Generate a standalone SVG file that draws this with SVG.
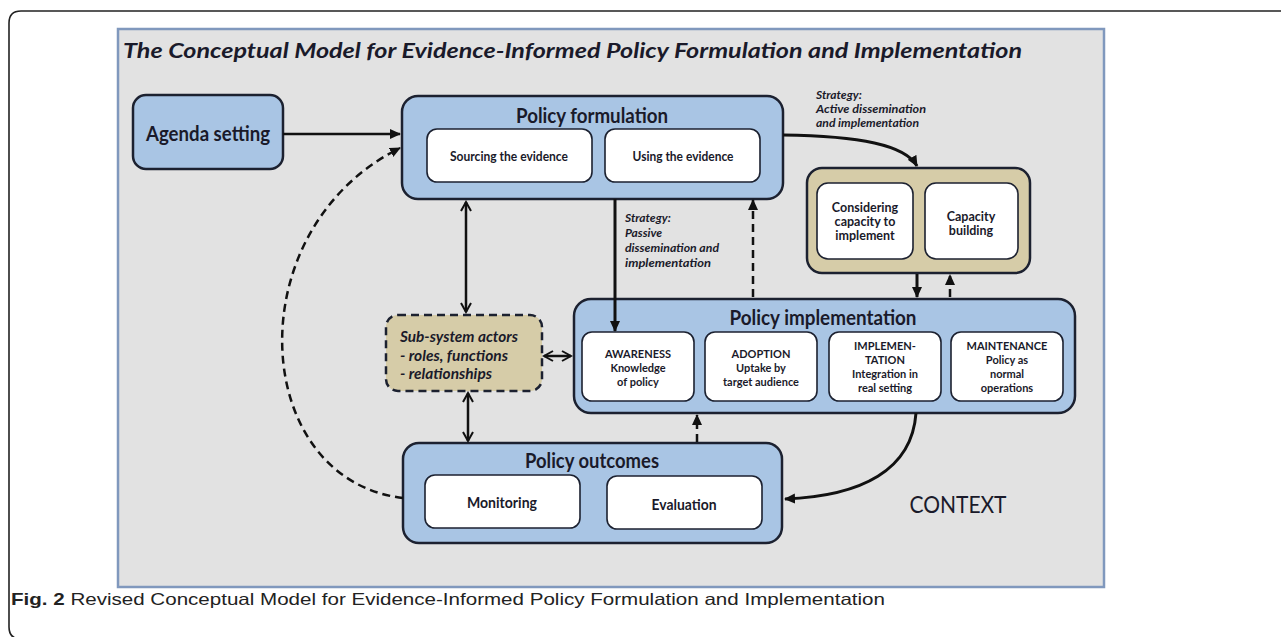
<svg xmlns="http://www.w3.org/2000/svg" width="1281" height="637" viewBox="0 0 1281 637">
<style>
.blue{fill:#a9c5e4;stroke:#1c2130;stroke-width:2.5}
.white{fill:#ffffff;stroke:#1c2130;stroke-width:1.6}
.tan{fill:#d6cca8;stroke:#1c2130;stroke-width:2.5}
.t{font-family:Lato,"Open Sans","Liberation Sans",sans-serif;fill:#1a1a2a}
.b{font-weight:bold}
.i{font-style:italic}
.c{text-anchor:middle}
.ln{fill:none;stroke:#111;stroke-width:2.5}
.th{stroke-width:3}
.dash{stroke-dasharray:8,5}
</style>
<defs>
<marker id="ah" markerWidth="12" markerHeight="12" refX="10" refY="6" orient="auto" markerUnits="userSpaceOnUse">
<path d="M0,1 L11,6 L0,11 Z" fill="#111"/>
</marker>
<marker id="open" markerWidth="12" markerHeight="12" refX="10" refY="6" orient="auto-start-reverse" markerUnits="userSpaceOnUse">
<path d="M1,1 L10,6 L1,11" fill="none" stroke="#111" stroke-width="2"/>
</marker>
</defs>
<rect x="0" y="0" width="1281" height="637" fill="#ffffff"/>
<path d="M1281 11 H21 Q9 11 9 23 V627 Q9 639 21 639 H1281" fill="none" stroke="#222" stroke-width="1.6"/>
<rect id="panel" x="118" y="29" width="986" height="558" fill="#e2e2e2" stroke="#8098bd" stroke-width="2.5"/>
<text class="t b i" x="123" y="58" font-size="20" textLength="899" lengthAdjust="spacingAndGlyphs">The Conceptual Model for Evidence-Informed Policy Formulation and Implementation</text>

<g id="agenda">
<rect class="blue" x="133" y="95" width="150" height="74" rx="13"/>
<text class="t b c" x="208" y="141" font-size="20" textLength="124" lengthAdjust="spacingAndGlyphs">Agenda setting</text>
</g>

<g id="formulation">
<rect class="blue" x="402" y="96" width="381" height="103" rx="16"/>
<text class="t b c" x="592" y="123" font-size="20" textLength="152" lengthAdjust="spacingAndGlyphs">Policy formulation</text>
<rect class="white" x="427" y="129" width="165" height="53" rx="10"/>
<text class="t b c" x="509" y="161" font-size="12.5" textLength="118" lengthAdjust="spacingAndGlyphs">Sourcing the evidence</text>
<rect class="white" x="605" y="129" width="155" height="53" rx="10"/>
<text class="t b c" x="683" y="161" font-size="12.5" textLength="101" lengthAdjust="spacingAndGlyphs">Using the evidence</text>
</g>

<g id="strategy-active">
<text class="t b i" x="816" y="99" font-size="12">Strategy:</text>
<text class="t b i" x="816" y="113" font-size="12" textLength="110" lengthAdjust="spacingAndGlyphs">Active dissemination</text>
<text class="t b i" x="816" y="127" font-size="12" textLength="103" lengthAdjust="spacingAndGlyphs">and implementation</text>
</g>

<g id="capacity">
<rect class="tan" x="807" y="168" width="223" height="105" rx="15"/>
<rect class="white" x="817" y="183" width="96" height="76" rx="11" stroke-width="2"/>
<text class="t b c" x="865" y="212" font-size="12.5">Considering</text>
<text class="t b c" x="865" y="226" font-size="12.5">capacity to</text>
<text class="t b c" x="865" y="240" font-size="12.5">implement</text>
<rect class="white" x="925" y="183" width="93" height="76" rx="11" stroke-width="2"/>
<text class="t b c" x="971" y="221" font-size="12.5">Capacity</text>
<text class="t b c" x="971" y="235" font-size="12.5">building</text>
</g>

<g id="strategy-passive">
<text class="t b i" x="625" y="222" font-size="12">Strategy:</text>
<text class="t b i" x="625" y="237" font-size="12">Passive</text>
<text class="t b i" x="625" y="252" font-size="12" textLength="94" lengthAdjust="spacingAndGlyphs">dissemination and</text>
<text class="t b i" x="625" y="267" font-size="12" textLength="86" lengthAdjust="spacingAndGlyphs">implementation</text>
</g>

<g id="subsystem">
<rect class="tan" x="386" y="315" width="156" height="76" rx="12" stroke-dasharray="8,5"/>
<text class="t b i" x="400" y="342" font-size="15" textLength="118" lengthAdjust="spacingAndGlyphs">Sub-system actors</text>
<text class="t b i" x="400" y="361" font-size="15" textLength="108" lengthAdjust="spacingAndGlyphs">- roles, functions</text>
<text class="t b i" x="400" y="379" font-size="15" textLength="92" lengthAdjust="spacingAndGlyphs">- relationships</text>
</g>

<g id="implementation">
<rect class="blue" x="574" y="299" width="501" height="114" rx="17"/>
<text class="t b c" x="823" y="325" font-size="21" textLength="187" lengthAdjust="spacingAndGlyphs">Policy implementation</text>
<rect class="white" x="582" y="332" width="112" height="69" rx="10"/>
<text class="t b c" x="638" y="358" font-size="11">AWARENESS</text>
<text class="t b c" x="638" y="372" font-size="11">Knowledge</text>
<text class="t b c" x="638" y="386" font-size="11">of policy</text>
<rect class="white" x="705" y="332" width="112" height="69" rx="10"/>
<text class="t b c" x="761" y="358" font-size="11">ADOPTION</text>
<text class="t b c" x="761" y="372" font-size="11">Uptake by</text>
<text class="t b c" x="761" y="386" font-size="11">target audience</text>
<rect class="white" x="829" y="332" width="112" height="69" rx="10"/>
<text class="t b c" x="885" y="350" font-size="11">IMPLEMEN-</text>
<text class="t b c" x="885" y="364" font-size="11">TATION</text>
<text class="t b c" x="885" y="378" font-size="11">Integration in</text>
<text class="t b c" x="885" y="392" font-size="11">real setting</text>
<rect class="white" x="951" y="332" width="112" height="69" rx="10"/>
<text class="t b c" x="1007" y="350" font-size="11">MAINTENANCE</text>
<text class="t b c" x="1007" y="364" font-size="11">Policy as</text>
<text class="t b c" x="1007" y="378" font-size="11">normal</text>
<text class="t b c" x="1007" y="392" font-size="11">operations</text>
</g>

<g id="outcomes">
<rect class="blue" x="403" y="443" width="379" height="100" rx="16"/>
<text class="t b c" x="592" y="468" font-size="20" textLength="134" lengthAdjust="spacingAndGlyphs">Policy outcomes</text>
<rect class="white" x="425" y="475" width="155" height="53" rx="10"/>
<text class="t b c" x="502" y="508" font-size="15" textLength="70" lengthAdjust="spacingAndGlyphs">Monitoring</text>
<rect class="white" x="607" y="476" width="155" height="53" rx="10"/>
<text class="t b c" x="684" y="510" font-size="15" textLength="65" lengthAdjust="spacingAndGlyphs">Evaluation</text>
</g>

<g id="connectors">
<line class="ln" x1="283" y1="134" x2="400" y2="134" marker-end="url(#ah)"/>
<line class="ln th" x1="615" y1="199" x2="615" y2="331" marker-end="url(#ah)"/>
<line class="ln dash" x1="753" y1="297" x2="753" y2="200" marker-end="url(#ah)"/>
<line class="ln" x1="466" y1="202" x2="466" y2="312" marker-start="url(#open)" marker-end="url(#open)"/>
<line class="ln" x1="468" y1="393" x2="468" y2="441" marker-start="url(#open)" marker-end="url(#open)"/>
<line class="ln" x1="544" y1="356" x2="571" y2="356" marker-start="url(#open)" marker-end="url(#open)"/>
<path class="ln th" d="M783 135 C860 136 905 145 917 166" marker-end="url(#ah)"/>
<line class="ln th" x1="917" y1="274" x2="917" y2="297" marker-end="url(#ah)"/>
<line class="ln dash" x1="950" y1="297" x2="950" y2="275" marker-end="url(#ah)"/>
<line class="ln dash" x1="697" y1="442" x2="697" y2="415" marker-end="url(#ah)"/>
<path class="ln th" d="M916 413 C912 470 862 496 785 499" marker-end="url(#ah)"/>
<path class="ln dash" d="M403 498 C250 480 235 230 400 148" marker-end="url(#ah)"/>
</g>

<text class="t c" x="958" y="513" font-size="23" textLength="97" lengthAdjust="spacingAndGlyphs">CONTEXT</text>

<text x="11" y="605" font-family="'Liberation Sans',Lato,sans-serif" font-size="16.5" fill="#222" textLength="874" lengthAdjust="spacingAndGlyphs"><tspan font-weight="bold">Fig. 2</tspan> Revised Conceptual Model for Evidence-Informed Policy Formulation and Implementation</text>
</svg>
